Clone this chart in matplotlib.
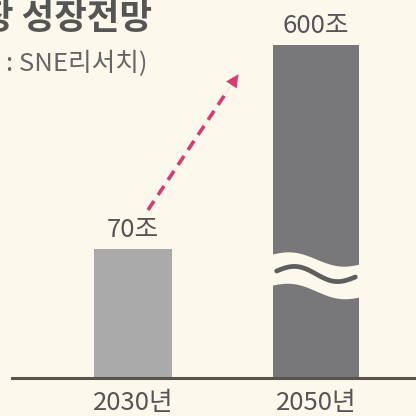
import numpy as np
import matplotlib.pyplot as plt

plt.rcParams['font.family'] = ['Noto Sans CJK KR', 'DejaVu Sans']

# data
years = ['2030년', '2050년']
values = [70, 600]           # 조 원
value_labels = ['70조', '600조']
shown = [70, 181]            # 600 is drawn with a broken axis
bar_colors = ['#aaaaaa', '#78787b']
bar_widths = [0.43, 0.47]

bg = '#fcf8ec'
fig = plt.figure(figsize=(4.16, 4.16), dpi=100, facecolor=bg)
ax = fig.add_axes([0, 38 / 416, 1, 378 / 416])
ax.set_facecolor(bg)
px = 1.84  # pixels per unit
ax.set_xlim(-133 / 183, (416 - 133) / 183)
ax.set_ylim(0, 378 / px)
ax.axis('off')

x = np.arange(len(years))
ax.bar(x, shown, width=bar_widths, color=bar_colors, zorder=2)
ax.axhline(0, xmin=12 / 416, xmax=1, color='#55554d', lw=2.2, zorder=3, clip_on=False)

# value labels
for xi, h, lab in zip(x, shown, value_labels):
    ax.text(xi, h + 10.5, lab, ha='center', va='center', fontsize=18.5,
            color='#555555')

# year labels
for xi, yr in zip(x, years):
    ax.text(xi, -13.5, yr, ha='center', va='center', fontsize=18.5,
            color='#555555', clip_on=False)

# break mark on the big bar
t = np.linspace(-0.26, 0.26, 100) + 1
u = (t - 1) / 0.26
s = np.sin(u * np.pi)
top = (378 - (259 + 4 * u + 5 * s)) / px
bot = (378 - (291 + 5 * u + 5 * s)) / px
ax.fill_between(t, bot, top, color=bg, zorder=4, lw=0)
tl = np.linspace(-0.215, 0.215, 100) + 1
ul = (tl - 1) / 0.215
ax.plot(tl, (378 - (274 + 3 * ul + 6 * np.sin(ul * np.pi))) / px, color='#5e5e5e',
        lw=3.4, zorder=5, solid_capstyle='round')

# growth arrow
x0, y0 = (148 - 133) / 183, (378 - 210) / px
x1, y1 = (240 - 133) / 183, (378 - 72) / px
f = 0.87
ax.plot([x0, x0 + f * (x1 - x0)], [y0, y0 + f * (y1 - y0)], color='#d83c72',
        lw=2.6, ls=(0, (3, 2)), zorder=3)
ax.annotate('', xy=(x1, y1), xytext=(x0 + 0.82 * (x1 - x0), y0 + 0.82 * (y1 - y0)),
            arrowprops=dict(arrowstyle='-|>,head_length=0.9,head_width=0.45',
                            color='#d83c72', lw=0.1))

# titles (cropped on the left as in the source image)
fig.text(152 / 416, 1 - 18 / 416, '장 성장전망', ha='right', va='center',
         fontsize=25.5, fontweight='bold', color='#555555')
fig.text(148 / 416, 1 - 64 / 416, ': SNE리서치)', ha='right', va='center',
         fontsize=18.5, color='#666666')

fig.savefig('out.png', dpi=100, facecolor=bg)
